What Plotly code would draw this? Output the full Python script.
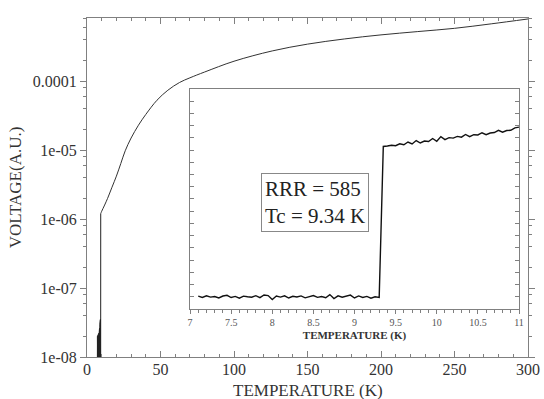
import plotly.graph_objects as go

# ---------------- main curve data ----------------
# superconducting (noise-floor) part below Tc
T_low = [6.8, 6.9, 7.0, 7.1, 7.2, 7.3, 7.4, 7.5, 7.6, 7.7, 7.8, 7.9, 8.0, 8.1,
         8.2, 8.3, 8.4, 8.5, 8.6, 8.7, 8.8, 8.9, 9.0, 9.1, 9.2, 9.3, 9.34]
V_low = [4e-9, 1.8e-8, 3e-9, 2.0e-8, 5e-9, 1.6e-8, 3e-9, 2.1e-8, 4e-9, 1.9e-8,
         3e-9, 2.2e-8, 5e-9, 2.0e-8, 3e-9, 2.4e-8, 4e-9, 2.6e-8, 3e-9, 3.0e-8,
         4e-9, 3.4e-8, 3e-9, 3.5e-8, 4e-9, 3e-9, 1.2e-6]
# normal-state part above Tc
T_norm = [9.34, 10, 12, 14, 17, 20, 23, 26, 30, 35, 40, 47.6, 55, 63, 70, 80,
          100, 126, 150, 175, 200, 225, 250, 275, 300]
V_norm = [1.2e-6, 1.3e-6, 1.6e-6, 2.0e-6, 2.9e-6, 4.2e-6, 6.4e-6, 9.8e-6,
          1.5e-5, 2.3e-5, 3.3e-5, 5.3e-5, 7.4e-5, 9.6e-5, 1.12e-4, 1.36e-4,
          1.95e-4, 2.75e-4, 3.45e-4, 4.1e-4, 4.7e-4, 5.25e-4, 5.85e-4,
          6.8e-4, 8.0e-4]

# ---------------- inset data (arbitrary linear units) ----------------
Ti_low = [7.10, 7.15, 7.20, 7.25, 7.30, 7.35, 7.40, 7.45, 7.50, 7.55, 7.60,
          7.65, 7.70, 7.75, 7.80, 7.85, 7.90, 7.95, 8.00, 8.05, 8.10, 8.15,
          8.20, 8.25, 8.30, 8.35, 8.40, 8.45, 8.50, 8.55, 8.60, 8.65, 8.70,
          8.75, 8.80, 8.85, 8.90, 8.95, 9.00, 9.05, 9.10, 9.15, 9.20, 9.25,
          9.30]
Vi_low = [1.05, 0.95, 1.08, 0.97, 1.02, 0.90, 1.06, 1.12, 0.94, 1.03, 0.88,
          1.05, 1.00, 0.96, 1.09, 0.93, 1.15, 1.10, 0.78, 1.06, 0.97, 1.08,
          0.90, 1.04, 0.98, 1.07, 0.91, 1.03, 1.10, 0.95, 1.02, 0.92, 1.18,
          0.86, 1.08, 0.96, 1.04, 1.14, 0.90, 1.07, 0.94, 1.03, 0.88, 1.00,
          0.95]
Ti_high = [9.35, 9.40, 9.45, 9.50, 9.55, 9.60, 9.65, 9.70, 9.75, 9.80, 9.85,
           9.90, 9.95, 10.00, 10.05, 10.10, 10.15, 10.20, 10.25, 10.30, 10.35,
           10.40, 10.45, 10.50, 10.55, 10.60, 10.65, 10.70, 10.75, 10.80,
           10.85, 10.90, 10.95, 11.00]
Vi_high = [13.30, 13.34, 13.40, 13.36, 13.52, 13.44, 13.66, 13.50, 13.78,
           13.58, 13.74, 13.70, 13.95, 13.72, 14.10, 13.86, 14.02, 13.98,
           14.12, 14.06, 14.28, 14.10, 14.26, 14.24, 14.42, 14.26, 14.40,
           14.44, 14.62, 14.46, 14.60, 14.62, 14.82, 14.88]

x_ticks_main = [0, 50, 100, 150, 200, 250, 300]
y_ticks_main = [1e-8, 1e-7, 1e-6, 1e-5, 1e-4]
y_ticklabels_main = ["1e-08", "1e-07", "1e-06", "1e-05", "0.0001"]
y_minor_main = [m * 10.0 ** e for e in range(-8, -3) for m in (2, 4, 6, 8)]
x_ticks_inset = [7, 7.5, 8, 8.5, 9, 9.5, 10, 10.5, 11]
x_ticklabels_inset = ["7", "7.5", "8", "8.5", "9", "9.5", "10", "10.5", "11"]

FONT = "Liberation Serif"
AXC = "#808080"
TXT = "#333333"

fig = go.Figure()
fig.add_trace(go.Scatter(x=T_low, y=V_low, mode="lines",
                         line=dict(color="#222222", width=1), xaxis="x", yaxis="y",
                         showlegend=False))
fig.add_trace(go.Scatter(x=T_norm, y=V_norm, mode="lines",
                         line=dict(color="#333333", width=1, shape="spline", smoothing=1.0),
                         xaxis="x", yaxis="y", showlegend=False))
fig.add_trace(go.Scatter(x=Ti_low + Ti_high, y=Vi_low + Vi_high, mode="lines",
                         line=dict(color="#111111", width=1.4), xaxis="x2", yaxis="y2",
                         showlegend=False))

fig.update_layout(
    width=544, height=399,
    margin=dict(l=87, r=16, t=18, b=42),
    paper_bgcolor="white", plot_bgcolor="white",
    font=dict(family=FONT, color=TXT),
    xaxis=dict(range=[0, 300], tickvals=x_ticks_main, showgrid=False, zeroline=False,
               automargin=False,
               showline=True, linecolor=AXC, linewidth=1, mirror="ticks",
               ticks="inside", ticklen=6, tickcolor=AXC, ticklabelstandoff=-2,
               minor=dict(dtick=10, ticks="inside", ticklen=3, tickcolor=AXC),
               tickfont=dict(size=16, color=TXT)),
    yaxis=dict(type="log", range=[-8, -3.083], tickvals=y_ticks_main,
               ticktext=y_ticklabels_main, showgrid=False, zeroline=False,
               automargin=False,
               showline=True, linecolor=AXC, linewidth=1, mirror="ticks",
               ticks="outside", ticklen=6, tickcolor=AXC,
               minor=dict(tickvals=y_minor_main, ticks="outside", ticklen=3, tickcolor=AXC),
               tickfont=dict(size=16, color=TXT),
               title=dict(text="VOLTAGE(A.U.)", font=dict(size=17, color=TXT), standoff=6)),
    xaxis2=dict(domain=[0.2336, 0.9796], anchor="y2", range=[7, 11],
                tickvals=x_ticks_inset, ticktext=x_ticklabels_inset,
                showgrid=False, zeroline=False, showline=True, linecolor=AXC,
                linewidth=1, mirror=True, ticks="outside", ticklen=4, tickcolor=AXC,
                minor=dict(dtick=0.1, ticks="outside", ticklen=3, tickcolor=AXC),
                tickfont=dict(size=10, color="#555555"),
                title=dict(text="<b>TEMPERATURE (K)</b>", font=dict(size=11, color=TXT), standoff=4)),
    yaxis2=dict(domain=[0.1416, 0.7906], anchor="x2", range=[0, 18], dtick=1,
                showticklabels=False, showgrid=False, zeroline=False, showline=True,
                linecolor=AXC, linewidth=1, mirror="ticks", ticks="inside",
                ticklen=4, tickcolor=AXC),
    annotations=[
        dict(text="RRR = 585<br>Tc = 9.34 K", xref="paper", yref="paper",
             x=0.518, y=0.457, xanchor="center", yanchor="middle",
             showarrow=False, align="left", font=dict(size=21, color="#222222"),
             bordercolor="#888888", borderwidth=1, borderpad=3, bgcolor="white"),
        dict(text="TEMPERATURE (K)", xref="paper", yref="paper",
             x=0.5, y=-0.099, xanchor="center", yanchor="middle", showarrow=False,
             font=dict(size=17, color=TXT)),
    ],
)

fig.write_html("out.html")
